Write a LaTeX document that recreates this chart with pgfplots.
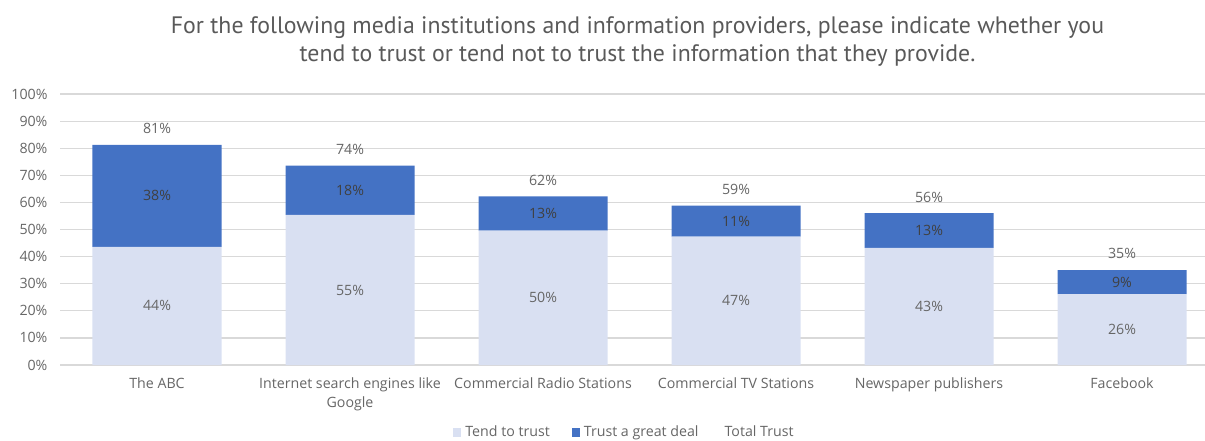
\documentclass[border=0pt]{standalone}
\usepackage{pgfplots}
\pgfplotsset{compat=1.18}
\usepackage{fontspec}
\setmainfont{Open Sans}
\newfontfamily\titlefont{PT Sans}
\definecolor{light}{HTML}{D9E0F2}
\definecolor{dark}{HTML}{4472C4}
\definecolor{txt}{HTML}{666666}
\definecolor{ttl}{HTML}{595959}
\definecolor{lbl}{HTML}{404040}
\definecolor{gridc}{HTML}{D9D9D9}
\newcommand\sm{\fontsize{7.1}{9.5}\selectfont}
\begin{document}
\begin{tikzpicture}
\useasboundingbox (0,0) rectangle (602.5pt,220pt);
\pgfplotsset{base/.style={scale only axis, width=579pt, height=135.5pt,
  at={(30.25pt,37.5pt)}, anchor=south west,
  xmin=-0.5, xmax=5.5, ymin=0, ymax=100}}
\begin{axis}[base, ybar stacked, bar width=64.5pt,
  axis line style={draw=none},
  ymajorgrids, major grid style={gridc, line width=0.6pt},
  major tick length=0pt,
  ytick={0,10,...,100},
  yticklabel={\pgfmathprintnumber{\tick}\%},
  /pgf/number format/assume math mode=true,
  yticklabel style={font=\sm, color=txt, xshift=-3pt},
  xtick={0,...,5},
  xticklabels={The ABC, {Internet search engines like\\Google}, Commercial Radio Stations, Commercial TV Stations, Newspaper publishers, Facebook},
  xticklabel style={font=\sm, color=txt, align=center, yshift=-3pt},
  title={For the following media institutions and information providers, please indicate whether you\\tend to trust or tend not to trust the information that they provide.},
  title style={font=\titlefont\fontsize{11.9}{14}\selectfont, color=ttl, align=center, at={(0.5,1)}, anchor=south, yshift=4.5pt, xshift=-1pt},
  legend style={at={(0.5,-0.25)}, anchor=center, xshift=-7pt, draw=none, fill=none, font=\sm, text=txt, legend columns=-1,
    /tikz/every odd column/.append style={column sep=0pt},
    /tikz/every even column/.append style={column sep=9pt}},
  legend cell align=left,
]
\addplot[fill=light, draw=none, legend image code/.code={\fill[light] (0pt,-2pt) rectangle (4pt,2.5pt);}] coordinates {(0,43.6) (1,55.4) (2,49.6) (3,47.4) (4,43.2) (5,26.2)};
\addlegendentry{Tend to trust}
\addplot[fill=dark, draw=none, legend image code/.code={\fill[dark] (0pt,-2pt) rectangle (4pt,2.5pt);}] coordinates {(0,37.6) (1,18.2) (2,12.6) (3,11.4) (4,12.8) (5,8.8)};
\addlegendentry{Trust a great deal}
\addlegendimage{empty legend}
\addlegendentry{Total Trust}
\end{axis}
\begin{axis}[base, hide axis, clip=false,
  nodes near coords, point meta=explicit symbolic]
\addplot[only marks, mark=none, every node near coord/.append style={anchor=center, font=\sm, color=txt}] coordinates {(0,21.8) [44\%] (1,27.7) [55\%] (2,24.8) [50\%] (3,23.7) [47\%] (4,21.6) [43\%] (5,13.1) [26\%]};
\addplot[only marks, mark=none, every node near coord/.append style={anchor=center, font=\sm, color=lbl}] coordinates {(0,62.4) [38\%] (1,64.5) [18\%] (2,55.9) [13\%] (3,53.1) [11\%] (4,49.6) [13\%] (5,30.6) [9\%]};
\addplot[only marks, mark=none, every node near coord/.append style={anchor=south, font=\sm, color=txt, yshift=2pt}] coordinates {(0,81.2) [81\%] (1,73.6) [74\%] (2,62.2) [62\%] (3,58.8) [59\%] (4,56) [56\%] (5,35) [35\%]};
\end{axis}
\end{tikzpicture}
\end{document}
